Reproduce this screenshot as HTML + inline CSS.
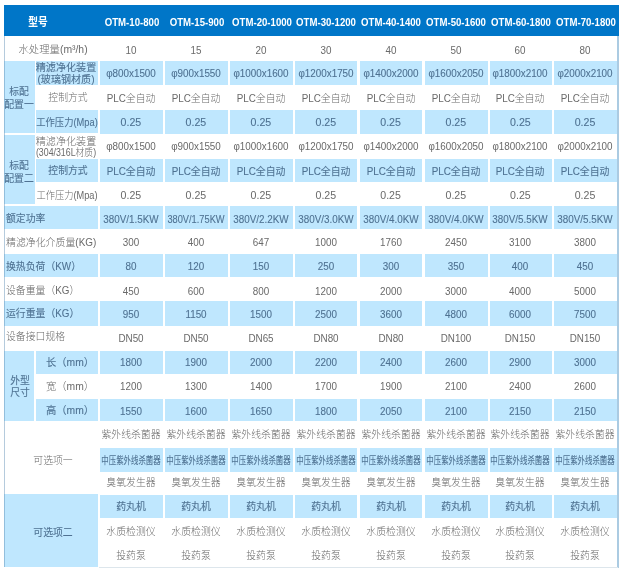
<!DOCTYPE html>
<html lang="zh-CN">
<head>
<meta charset="utf-8">
<title>OTM 规格参数表</title>
<style>
html,body{margin:0;padding:0;background:#fff;}
body{width:625px;height:572px;position:relative;overflow:hidden;
 font-family:"Liberation Sans","Noto Sans CJK SC",sans-serif;}
.b{position:absolute;}
.t{position:absolute;white-space:nowrap;font-size:10.6px;line-height:12px;text-align:center;font-weight:300;}
.t.w{color:#6a6a6a;}
.t.l{color:#4f7292;font-weight:400;-webkit-text-stroke:0.1px #4f7292;}
.t.h{color:#fff;font-weight:700;font-size:11.6px;}
</style>
</head>
<body>
<div class="b" style="left:4.0px;top:4.5px;width:615.0px;height:31.1px;background:#0076c8"></div>
<div class="b" style="left:617px;top:35.6px;width:1.9px;height:532.2px;background:#abcbe2"></div>
<div class="b" style="left:99px;top:566.6px;width:519px;height:1px;background:#dde6ec"></div>
<div class="b" style="left:4.0px;top:61.0px;width:30.8px;height:72.0px;background:#bfe7fe"></div>
<div class="b" style="left:36.0px;top:61.0px;width:61.7px;height:23.5px;background:#bfe7fe"></div>
<div class="b" style="left:36.0px;top:110.2px;width:61.7px;height:22.8px;background:#bfe7fe"></div>
<div class="b" style="left:100.2px;top:61.0px;width:62.6px;height:23.5px;background:#bfe7fe"></div>
<div class="b" style="left:165.2px;top:61.0px;width:62.6px;height:23.5px;background:#bfe7fe"></div>
<div class="b" style="left:230.2px;top:61.0px;width:62.6px;height:23.5px;background:#bfe7fe"></div>
<div class="b" style="left:295.2px;top:61.0px;width:62.2px;height:23.5px;background:#bfe7fe"></div>
<div class="b" style="left:359.9px;top:61.0px;width:62.6px;height:23.5px;background:#bfe7fe"></div>
<div class="b" style="left:424.9px;top:61.0px;width:62.9px;height:23.5px;background:#bfe7fe"></div>
<div class="b" style="left:490.2px;top:61.0px;width:61.5px;height:23.5px;background:#bfe7fe"></div>
<div class="b" style="left:554.2px;top:61.0px;width:62.8px;height:23.5px;background:#bfe7fe"></div>
<div class="b" style="left:100.2px;top:110.2px;width:62.6px;height:23.4px;background:#bfe7fe"></div>
<div class="b" style="left:165.2px;top:110.2px;width:62.6px;height:23.4px;background:#bfe7fe"></div>
<div class="b" style="left:230.2px;top:110.2px;width:62.6px;height:23.4px;background:#bfe7fe"></div>
<div class="b" style="left:295.2px;top:110.2px;width:62.2px;height:23.4px;background:#bfe7fe"></div>
<div class="b" style="left:359.9px;top:110.2px;width:62.6px;height:23.4px;background:#bfe7fe"></div>
<div class="b" style="left:424.9px;top:110.2px;width:62.9px;height:23.4px;background:#bfe7fe"></div>
<div class="b" style="left:490.2px;top:110.2px;width:61.5px;height:23.4px;background:#bfe7fe"></div>
<div class="b" style="left:554.2px;top:110.2px;width:62.8px;height:23.4px;background:#bfe7fe"></div>
<div class="b" style="left:4.0px;top:134.6px;width:30.8px;height:69.2px;background:#bfe7fe"></div>
<div class="b" style="left:36.0px;top:159.0px;width:61.7px;height:22.5px;background:#bfe7fe"></div>
<div class="b" style="left:100.2px;top:159.0px;width:62.6px;height:22.5px;background:#bfe7fe"></div>
<div class="b" style="left:165.2px;top:159.0px;width:62.6px;height:22.5px;background:#bfe7fe"></div>
<div class="b" style="left:230.2px;top:159.0px;width:62.6px;height:22.5px;background:#bfe7fe"></div>
<div class="b" style="left:295.2px;top:159.0px;width:62.2px;height:22.5px;background:#bfe7fe"></div>
<div class="b" style="left:359.9px;top:159.0px;width:62.6px;height:22.5px;background:#bfe7fe"></div>
<div class="b" style="left:424.9px;top:159.0px;width:62.9px;height:22.5px;background:#bfe7fe"></div>
<div class="b" style="left:490.2px;top:159.0px;width:61.5px;height:22.5px;background:#bfe7fe"></div>
<div class="b" style="left:554.2px;top:159.0px;width:62.8px;height:22.5px;background:#bfe7fe"></div>
<div class="b" style="left:4.0px;top:206.3px;width:93.7px;height:23.2px;background:#bfe7fe"></div>
<div class="b" style="left:100.2px;top:206.3px;width:62.6px;height:23.2px;background:#bfe7fe"></div>
<div class="b" style="left:165.2px;top:206.3px;width:62.6px;height:23.2px;background:#bfe7fe"></div>
<div class="b" style="left:230.2px;top:206.3px;width:62.6px;height:23.2px;background:#bfe7fe"></div>
<div class="b" style="left:295.2px;top:206.3px;width:62.2px;height:23.2px;background:#bfe7fe"></div>
<div class="b" style="left:359.9px;top:206.3px;width:62.6px;height:23.2px;background:#bfe7fe"></div>
<div class="b" style="left:424.9px;top:206.3px;width:62.9px;height:23.2px;background:#bfe7fe"></div>
<div class="b" style="left:490.2px;top:206.3px;width:61.5px;height:23.2px;background:#bfe7fe"></div>
<div class="b" style="left:554.2px;top:206.3px;width:62.8px;height:23.2px;background:#bfe7fe"></div>
<div class="b" style="left:4.0px;top:253.9px;width:93.7px;height:23.4px;background:#bfe7fe"></div>
<div class="b" style="left:100.2px;top:253.9px;width:62.6px;height:23.4px;background:#bfe7fe"></div>
<div class="b" style="left:165.2px;top:253.9px;width:62.6px;height:23.4px;background:#bfe7fe"></div>
<div class="b" style="left:230.2px;top:253.9px;width:62.6px;height:23.4px;background:#bfe7fe"></div>
<div class="b" style="left:295.2px;top:253.9px;width:62.2px;height:23.4px;background:#bfe7fe"></div>
<div class="b" style="left:359.9px;top:253.9px;width:62.6px;height:23.4px;background:#bfe7fe"></div>
<div class="b" style="left:424.9px;top:253.9px;width:62.9px;height:23.4px;background:#bfe7fe"></div>
<div class="b" style="left:490.2px;top:253.9px;width:61.5px;height:23.4px;background:#bfe7fe"></div>
<div class="b" style="left:554.2px;top:253.9px;width:62.8px;height:23.4px;background:#bfe7fe"></div>
<div class="b" style="left:4.0px;top:301.0px;width:93.7px;height:24.7px;background:#bfe7fe"></div>
<div class="b" style="left:100.2px;top:301.0px;width:62.6px;height:24.7px;background:#bfe7fe"></div>
<div class="b" style="left:165.2px;top:301.0px;width:62.6px;height:24.7px;background:#bfe7fe"></div>
<div class="b" style="left:230.2px;top:301.0px;width:62.6px;height:24.7px;background:#bfe7fe"></div>
<div class="b" style="left:295.2px;top:301.0px;width:62.2px;height:24.7px;background:#bfe7fe"></div>
<div class="b" style="left:359.9px;top:301.0px;width:62.6px;height:24.7px;background:#bfe7fe"></div>
<div class="b" style="left:424.9px;top:301.0px;width:62.9px;height:24.7px;background:#bfe7fe"></div>
<div class="b" style="left:490.2px;top:301.0px;width:61.5px;height:24.7px;background:#bfe7fe"></div>
<div class="b" style="left:554.2px;top:301.0px;width:62.8px;height:24.7px;background:#bfe7fe"></div>
<div class="b" style="left:4.0px;top:351.1px;width:30.2px;height:70.2px;background:#bfe7fe"></div>
<div class="b" style="left:36.0px;top:351.1px;width:61.7px;height:22.9px;background:#bfe7fe"></div>
<div class="b" style="left:36.0px;top:399.0px;width:61.7px;height:22.3px;background:#bfe7fe"></div>
<div class="b" style="left:100.2px;top:351.1px;width:62.6px;height:22.9px;background:#bfe7fe"></div>
<div class="b" style="left:165.2px;top:351.1px;width:62.6px;height:22.9px;background:#bfe7fe"></div>
<div class="b" style="left:230.2px;top:351.1px;width:62.6px;height:22.9px;background:#bfe7fe"></div>
<div class="b" style="left:295.2px;top:351.1px;width:62.2px;height:22.9px;background:#bfe7fe"></div>
<div class="b" style="left:359.9px;top:351.1px;width:62.6px;height:22.9px;background:#bfe7fe"></div>
<div class="b" style="left:424.9px;top:351.1px;width:62.9px;height:22.9px;background:#bfe7fe"></div>
<div class="b" style="left:490.2px;top:351.1px;width:61.5px;height:22.9px;background:#bfe7fe"></div>
<div class="b" style="left:554.2px;top:351.1px;width:62.8px;height:22.9px;background:#bfe7fe"></div>
<div class="b" style="left:100.2px;top:399.0px;width:62.6px;height:22.3px;background:#bfe7fe"></div>
<div class="b" style="left:165.2px;top:399.0px;width:62.6px;height:22.3px;background:#bfe7fe"></div>
<div class="b" style="left:230.2px;top:399.0px;width:62.6px;height:22.3px;background:#bfe7fe"></div>
<div class="b" style="left:295.2px;top:399.0px;width:62.2px;height:22.3px;background:#bfe7fe"></div>
<div class="b" style="left:359.9px;top:399.0px;width:62.6px;height:22.3px;background:#bfe7fe"></div>
<div class="b" style="left:424.9px;top:399.0px;width:62.9px;height:22.3px;background:#bfe7fe"></div>
<div class="b" style="left:490.2px;top:399.0px;width:61.5px;height:22.3px;background:#bfe7fe"></div>
<div class="b" style="left:554.2px;top:399.0px;width:62.8px;height:22.3px;background:#bfe7fe"></div>
<div class="b" style="left:100.2px;top:448.1px;width:62.6px;height:23.6px;background:#bfe7fe"></div>
<div class="b" style="left:165.2px;top:448.1px;width:62.6px;height:23.6px;background:#bfe7fe"></div>
<div class="b" style="left:230.2px;top:448.1px;width:62.6px;height:23.6px;background:#bfe7fe"></div>
<div class="b" style="left:295.2px;top:448.1px;width:62.2px;height:23.6px;background:#bfe7fe"></div>
<div class="b" style="left:359.9px;top:448.1px;width:62.6px;height:23.6px;background:#bfe7fe"></div>
<div class="b" style="left:424.9px;top:448.1px;width:62.9px;height:23.6px;background:#bfe7fe"></div>
<div class="b" style="left:490.2px;top:448.1px;width:61.5px;height:23.6px;background:#bfe7fe"></div>
<div class="b" style="left:554.2px;top:448.1px;width:62.8px;height:23.6px;background:#bfe7fe"></div>
<div class="b" style="left:4.0px;top:494.2px;width:93.7px;height:72.5px;background:#bfe7fe"></div>
<div class="b" style="left:100.2px;top:495.1px;width:62.6px;height:23.0px;background:#bfe7fe"></div>
<div class="b" style="left:165.2px;top:495.1px;width:62.6px;height:23.0px;background:#bfe7fe"></div>
<div class="b" style="left:230.2px;top:495.1px;width:62.6px;height:23.0px;background:#bfe7fe"></div>
<div class="b" style="left:295.2px;top:495.1px;width:62.2px;height:23.0px;background:#bfe7fe"></div>
<div class="b" style="left:359.9px;top:495.1px;width:62.6px;height:23.0px;background:#bfe7fe"></div>
<div class="b" style="left:424.9px;top:495.1px;width:62.9px;height:23.0px;background:#bfe7fe"></div>
<div class="b" style="left:490.2px;top:495.1px;width:61.5px;height:23.0px;background:#bfe7fe"></div>
<div class="b" style="left:554.2px;top:495.1px;width:62.8px;height:23.0px;background:#bfe7fe"></div>
<div class="t h" style="top:21.9px;left:38.2px;transform:translate(-50%,-50%) scaleX(0.9);font-size:10.8px;">型号</div>
<div class="t h" style="top:21.6px;left:131.5px;transform:translate(-50%,-50%) scaleX(0.83);">OTM-10-800</div>
<div class="t h" style="top:21.6px;left:196.5px;transform:translate(-50%,-50%) scaleX(0.83);">OTM-15-900</div>
<div class="t h" style="top:21.6px;left:261.5px;transform:translate(-50%,-50%) scaleX(0.83);">OTM-20-1000</div>
<div class="t h" style="top:21.6px;left:326.4px;transform:translate(-50%,-50%) scaleX(0.83);">OTM-30-1200</div>
<div class="t h" style="top:21.6px;left:391.2px;transform:translate(-50%,-50%) scaleX(0.83);">OTM-40-1400</div>
<div class="t h" style="top:21.6px;left:456.4px;transform:translate(-50%,-50%) scaleX(0.83);">OTM-50-1600</div>
<div class="t h" style="top:21.6px;left:521.0px;transform:translate(-50%,-50%) scaleX(0.83);">OTM-60-1800</div>
<div class="t h" style="top:21.6px;left:585.6px;transform:translate(-50%,-50%) scaleX(0.83);">OTM-70-1800</div>
<div class="t w" style="top:50.0px;left:130.9px;transform:translate(-50%,-50%) scaleX(0.93);">10</div>
<div class="t w" style="top:50.0px;left:195.9px;transform:translate(-50%,-50%) scaleX(0.93);">15</div>
<div class="t w" style="top:50.0px;left:260.9px;transform:translate(-50%,-50%) scaleX(0.93);">20</div>
<div class="t w" style="top:50.0px;left:325.8px;transform:translate(-50%,-50%) scaleX(0.93);">30</div>
<div class="t w" style="top:50.0px;left:390.6px;transform:translate(-50%,-50%) scaleX(0.93);">40</div>
<div class="t w" style="top:50.0px;left:455.8px;transform:translate(-50%,-50%) scaleX(0.93);">50</div>
<div class="t w" style="top:50.0px;left:520.4px;transform:translate(-50%,-50%) scaleX(0.93);">60</div>
<div class="t w" style="top:50.0px;left:585.0px;transform:translate(-50%,-50%) scaleX(0.93);">80</div>
<div class="t l" style="top:73.0px;left:130.9px;transform:translate(-50%,-50%) scaleX(0.93);">φ800x1500</div>
<div class="t l" style="top:73.0px;left:195.9px;transform:translate(-50%,-50%) scaleX(0.93);">φ900x1550</div>
<div class="t l" style="top:73.0px;left:260.9px;transform:translate(-50%,-50%) scaleX(0.93);">φ1000x1600</div>
<div class="t l" style="top:73.0px;left:325.8px;transform:translate(-50%,-50%) scaleX(0.93);">φ1200x1750</div>
<div class="t l" style="top:73.0px;left:390.6px;transform:translate(-50%,-50%) scaleX(0.93);">φ1400x2000</div>
<div class="t l" style="top:73.0px;left:455.8px;transform:translate(-50%,-50%) scaleX(0.93);">φ1600x2050</div>
<div class="t l" style="top:73.0px;left:520.4px;transform:translate(-50%,-50%) scaleX(0.93);">φ1800x2100</div>
<div class="t l" style="top:73.0px;left:585.0px;transform:translate(-50%,-50%) scaleX(0.93);">φ2000x2100</div>
<div class="t w" style="top:98.0px;left:130.9px;transform:translate(-50%,-50%) scaleX(0.93);">PLC全自动</div>
<div class="t w" style="top:98.0px;left:195.9px;transform:translate(-50%,-50%) scaleX(0.93);">PLC全自动</div>
<div class="t w" style="top:98.0px;left:260.9px;transform:translate(-50%,-50%) scaleX(0.93);">PLC全自动</div>
<div class="t w" style="top:98.0px;left:325.8px;transform:translate(-50%,-50%) scaleX(0.93);">PLC全自动</div>
<div class="t w" style="top:98.0px;left:390.6px;transform:translate(-50%,-50%) scaleX(0.93);">PLC全自动</div>
<div class="t w" style="top:98.0px;left:455.8px;transform:translate(-50%,-50%) scaleX(0.93);">PLC全自动</div>
<div class="t w" style="top:98.0px;left:520.4px;transform:translate(-50%,-50%) scaleX(0.93);">PLC全自动</div>
<div class="t w" style="top:98.0px;left:585.0px;transform:translate(-50%,-50%) scaleX(0.93);">PLC全自动</div>
<div class="t l" style="top:122.1px;left:130.9px;transform:translate(-50%,-50%) scaleX(1.0);">0.25</div>
<div class="t l" style="top:122.1px;left:195.9px;transform:translate(-50%,-50%) scaleX(1.0);">0.25</div>
<div class="t l" style="top:122.1px;left:260.9px;transform:translate(-50%,-50%) scaleX(1.0);">0.25</div>
<div class="t l" style="top:122.1px;left:325.8px;transform:translate(-50%,-50%) scaleX(1.0);">0.25</div>
<div class="t l" style="top:122.1px;left:390.6px;transform:translate(-50%,-50%) scaleX(1.0);">0.25</div>
<div class="t l" style="top:122.1px;left:455.8px;transform:translate(-50%,-50%) scaleX(1.0);">0.25</div>
<div class="t l" style="top:122.1px;left:520.4px;transform:translate(-50%,-50%) scaleX(1.0);">0.25</div>
<div class="t l" style="top:122.1px;left:585.0px;transform:translate(-50%,-50%) scaleX(1.0);">0.25</div>
<div class="t w" style="top:146.4px;left:130.9px;transform:translate(-50%,-50%) scaleX(0.93);">φ800x1500</div>
<div class="t w" style="top:146.4px;left:195.9px;transform:translate(-50%,-50%) scaleX(0.93);">φ900x1550</div>
<div class="t w" style="top:146.4px;left:260.9px;transform:translate(-50%,-50%) scaleX(0.93);">φ1000x1600</div>
<div class="t w" style="top:146.4px;left:325.8px;transform:translate(-50%,-50%) scaleX(0.93);">φ1200x1750</div>
<div class="t w" style="top:146.4px;left:390.6px;transform:translate(-50%,-50%) scaleX(0.93);">φ1400x2000</div>
<div class="t w" style="top:146.4px;left:455.8px;transform:translate(-50%,-50%) scaleX(0.93);">φ1600x2050</div>
<div class="t w" style="top:146.4px;left:520.4px;transform:translate(-50%,-50%) scaleX(0.93);">φ1800x2100</div>
<div class="t w" style="top:146.4px;left:585.0px;transform:translate(-50%,-50%) scaleX(0.93);">φ2000x2100</div>
<div class="t l" style="top:170.8px;left:130.9px;transform:translate(-50%,-50%) scaleX(0.93);">PLC全自动</div>
<div class="t l" style="top:170.8px;left:195.9px;transform:translate(-50%,-50%) scaleX(0.93);">PLC全自动</div>
<div class="t l" style="top:170.8px;left:260.9px;transform:translate(-50%,-50%) scaleX(0.93);">PLC全自动</div>
<div class="t l" style="top:170.8px;left:325.8px;transform:translate(-50%,-50%) scaleX(0.93);">PLC全自动</div>
<div class="t l" style="top:170.8px;left:390.6px;transform:translate(-50%,-50%) scaleX(0.93);">PLC全自动</div>
<div class="t l" style="top:170.8px;left:455.8px;transform:translate(-50%,-50%) scaleX(0.93);">PLC全自动</div>
<div class="t l" style="top:170.8px;left:520.4px;transform:translate(-50%,-50%) scaleX(0.93);">PLC全自动</div>
<div class="t l" style="top:170.8px;left:585.0px;transform:translate(-50%,-50%) scaleX(0.93);">PLC全自动</div>
<div class="t w" style="top:194.6px;left:130.9px;transform:translate(-50%,-50%) scaleX(1.0);">0.25</div>
<div class="t w" style="top:194.6px;left:195.9px;transform:translate(-50%,-50%) scaleX(1.0);">0.25</div>
<div class="t w" style="top:194.6px;left:260.9px;transform:translate(-50%,-50%) scaleX(1.0);">0.25</div>
<div class="t w" style="top:194.6px;left:325.8px;transform:translate(-50%,-50%) scaleX(1.0);">0.25</div>
<div class="t w" style="top:194.6px;left:390.6px;transform:translate(-50%,-50%) scaleX(1.0);">0.25</div>
<div class="t w" style="top:194.6px;left:455.8px;transform:translate(-50%,-50%) scaleX(1.0);">0.25</div>
<div class="t w" style="top:194.6px;left:520.4px;transform:translate(-50%,-50%) scaleX(1.0);">0.25</div>
<div class="t w" style="top:194.6px;left:585.0px;transform:translate(-50%,-50%) scaleX(1.0);">0.25</div>
<div class="t l" style="top:218.5px;left:130.9px;transform:translate(-50%,-50%) scaleX(0.93);">380V/1.5KW</div>
<div class="t l" style="top:218.5px;left:195.9px;transform:translate(-50%,-50%) scaleX(0.875);">380V/1.75KW</div>
<div class="t l" style="top:218.5px;left:260.9px;transform:translate(-50%,-50%) scaleX(0.93);">380V/2.2KW</div>
<div class="t l" style="top:218.5px;left:325.8px;transform:translate(-50%,-50%) scaleX(0.93);">380V/3.0KW</div>
<div class="t l" style="top:218.5px;left:390.6px;transform:translate(-50%,-50%) scaleX(0.93);">380V/4.0KW</div>
<div class="t l" style="top:218.5px;left:455.8px;transform:translate(-50%,-50%) scaleX(0.93);">380V/4.0KW</div>
<div class="t l" style="top:218.5px;left:520.4px;transform:translate(-50%,-50%) scaleX(0.93);">380V/5.5KW</div>
<div class="t l" style="top:218.5px;left:585.0px;transform:translate(-50%,-50%) scaleX(0.93);">380V/5.5KW</div>
<div class="t w" style="top:242.4px;left:130.9px;transform:translate(-50%,-50%) scaleX(0.93);">300</div>
<div class="t w" style="top:242.4px;left:195.9px;transform:translate(-50%,-50%) scaleX(0.93);">400</div>
<div class="t w" style="top:242.4px;left:260.9px;transform:translate(-50%,-50%) scaleX(0.93);">647</div>
<div class="t w" style="top:242.4px;left:325.8px;transform:translate(-50%,-50%) scaleX(0.93);">1000</div>
<div class="t w" style="top:242.4px;left:390.6px;transform:translate(-50%,-50%) scaleX(0.93);">1760</div>
<div class="t w" style="top:242.4px;left:455.8px;transform:translate(-50%,-50%) scaleX(0.93);">2450</div>
<div class="t w" style="top:242.4px;left:520.4px;transform:translate(-50%,-50%) scaleX(0.93);">3100</div>
<div class="t w" style="top:242.4px;left:585.0px;transform:translate(-50%,-50%) scaleX(0.93);">3800</div>
<div class="t l" style="top:266.4px;left:130.9px;transform:translate(-50%,-50%) scaleX(0.93);">80</div>
<div class="t l" style="top:266.4px;left:195.9px;transform:translate(-50%,-50%) scaleX(0.93);">120</div>
<div class="t l" style="top:266.4px;left:260.9px;transform:translate(-50%,-50%) scaleX(0.93);">150</div>
<div class="t l" style="top:266.4px;left:325.8px;transform:translate(-50%,-50%) scaleX(0.93);">250</div>
<div class="t l" style="top:266.4px;left:390.6px;transform:translate(-50%,-50%) scaleX(0.93);">300</div>
<div class="t l" style="top:266.4px;left:455.8px;transform:translate(-50%,-50%) scaleX(0.93);">350</div>
<div class="t l" style="top:266.4px;left:520.4px;transform:translate(-50%,-50%) scaleX(0.93);">400</div>
<div class="t l" style="top:266.4px;left:585.0px;transform:translate(-50%,-50%) scaleX(0.93);">450</div>
<div class="t w" style="top:291.3px;left:130.9px;transform:translate(-50%,-50%) scaleX(0.93);">450</div>
<div class="t w" style="top:291.3px;left:195.9px;transform:translate(-50%,-50%) scaleX(0.93);">600</div>
<div class="t w" style="top:291.3px;left:260.9px;transform:translate(-50%,-50%) scaleX(0.93);">800</div>
<div class="t w" style="top:291.3px;left:325.8px;transform:translate(-50%,-50%) scaleX(0.93);">1200</div>
<div class="t w" style="top:291.3px;left:390.6px;transform:translate(-50%,-50%) scaleX(0.93);">2000</div>
<div class="t w" style="top:291.3px;left:455.8px;transform:translate(-50%,-50%) scaleX(0.93);">3000</div>
<div class="t w" style="top:291.3px;left:520.4px;transform:translate(-50%,-50%) scaleX(0.93);">4000</div>
<div class="t w" style="top:291.3px;left:585.0px;transform:translate(-50%,-50%) scaleX(0.93);">5000</div>
<div class="t l" style="top:313.6px;left:130.9px;transform:translate(-50%,-50%) scaleX(0.93);">950</div>
<div class="t l" style="top:313.6px;left:195.9px;transform:translate(-50%,-50%) scaleX(0.93);">1150</div>
<div class="t l" style="top:313.6px;left:260.9px;transform:translate(-50%,-50%) scaleX(0.93);">1500</div>
<div class="t l" style="top:313.6px;left:325.8px;transform:translate(-50%,-50%) scaleX(0.93);">2500</div>
<div class="t l" style="top:313.6px;left:390.6px;transform:translate(-50%,-50%) scaleX(0.93);">3600</div>
<div class="t l" style="top:313.6px;left:455.8px;transform:translate(-50%,-50%) scaleX(0.93);">4800</div>
<div class="t l" style="top:313.6px;left:520.4px;transform:translate(-50%,-50%) scaleX(0.93);">6000</div>
<div class="t l" style="top:313.6px;left:585.0px;transform:translate(-50%,-50%) scaleX(0.93);">7500</div>
<div class="t w" style="top:337.8px;left:130.9px;transform:translate(-50%,-50%) scaleX(0.93);">DN50</div>
<div class="t w" style="top:337.8px;left:195.9px;transform:translate(-50%,-50%) scaleX(0.93);">DN50</div>
<div class="t w" style="top:337.8px;left:260.9px;transform:translate(-50%,-50%) scaleX(0.93);">DN65</div>
<div class="t w" style="top:337.8px;left:325.8px;transform:translate(-50%,-50%) scaleX(0.93);">DN80</div>
<div class="t w" style="top:337.8px;left:390.6px;transform:translate(-50%,-50%) scaleX(0.93);">DN80</div>
<div class="t w" style="top:337.8px;left:455.8px;transform:translate(-50%,-50%) scaleX(0.93);">DN100</div>
<div class="t w" style="top:337.8px;left:520.4px;transform:translate(-50%,-50%) scaleX(0.93);">DN150</div>
<div class="t w" style="top:337.8px;left:585.0px;transform:translate(-50%,-50%) scaleX(0.93);">DN150</div>
<div class="t l" style="top:362.4px;left:130.9px;transform:translate(-50%,-50%) scaleX(0.93);">1800</div>
<div class="t l" style="top:362.4px;left:195.9px;transform:translate(-50%,-50%) scaleX(0.93);">1900</div>
<div class="t l" style="top:362.4px;left:260.9px;transform:translate(-50%,-50%) scaleX(0.93);">2000</div>
<div class="t l" style="top:362.4px;left:325.8px;transform:translate(-50%,-50%) scaleX(0.93);">2200</div>
<div class="t l" style="top:362.4px;left:390.6px;transform:translate(-50%,-50%) scaleX(0.93);">2400</div>
<div class="t l" style="top:362.4px;left:455.8px;transform:translate(-50%,-50%) scaleX(0.93);">2600</div>
<div class="t l" style="top:362.4px;left:520.4px;transform:translate(-50%,-50%) scaleX(0.93);">2900</div>
<div class="t l" style="top:362.4px;left:585.0px;transform:translate(-50%,-50%) scaleX(0.93);">3000</div>
<div class="t w" style="top:386.0px;left:130.9px;transform:translate(-50%,-50%) scaleX(0.93);">1200</div>
<div class="t w" style="top:386.0px;left:195.9px;transform:translate(-50%,-50%) scaleX(0.93);">1300</div>
<div class="t w" style="top:386.0px;left:260.9px;transform:translate(-50%,-50%) scaleX(0.93);">1400</div>
<div class="t w" style="top:386.0px;left:325.8px;transform:translate(-50%,-50%) scaleX(0.93);">1700</div>
<div class="t w" style="top:386.0px;left:390.6px;transform:translate(-50%,-50%) scaleX(0.93);">1900</div>
<div class="t w" style="top:386.0px;left:455.8px;transform:translate(-50%,-50%) scaleX(0.93);">2100</div>
<div class="t w" style="top:386.0px;left:520.4px;transform:translate(-50%,-50%) scaleX(0.93);">2400</div>
<div class="t w" style="top:386.0px;left:585.0px;transform:translate(-50%,-50%) scaleX(0.93);">2600</div>
<div class="t l" style="top:411.3px;left:130.9px;transform:translate(-50%,-50%) scaleX(0.93);">1550</div>
<div class="t l" style="top:411.3px;left:195.9px;transform:translate(-50%,-50%) scaleX(0.93);">1600</div>
<div class="t l" style="top:411.3px;left:260.9px;transform:translate(-50%,-50%) scaleX(0.93);">1650</div>
<div class="t l" style="top:411.3px;left:325.8px;transform:translate(-50%,-50%) scaleX(0.93);">1800</div>
<div class="t l" style="top:411.3px;left:390.6px;transform:translate(-50%,-50%) scaleX(0.93);">2050</div>
<div class="t l" style="top:411.3px;left:455.8px;transform:translate(-50%,-50%) scaleX(0.93);">2100</div>
<div class="t l" style="top:411.3px;left:520.4px;transform:translate(-50%,-50%) scaleX(0.93);">2150</div>
<div class="t l" style="top:411.3px;left:585.0px;transform:translate(-50%,-50%) scaleX(0.93);">2150</div>
<div class="t w" style="top:433.8px;left:130.9px;transform:translate(-50%,-50%) scaleX(0.93);">紫外线杀菌器</div>
<div class="t w" style="top:433.8px;left:195.9px;transform:translate(-50%,-50%) scaleX(0.93);">紫外线杀菌器</div>
<div class="t w" style="top:433.8px;left:260.9px;transform:translate(-50%,-50%) scaleX(0.93);">紫外线杀菌器</div>
<div class="t w" style="top:433.8px;left:325.8px;transform:translate(-50%,-50%) scaleX(0.93);">紫外线杀菌器</div>
<div class="t w" style="top:433.8px;left:390.6px;transform:translate(-50%,-50%) scaleX(0.93);">紫外线杀菌器</div>
<div class="t w" style="top:433.8px;left:455.8px;transform:translate(-50%,-50%) scaleX(0.93);">紫外线杀菌器</div>
<div class="t w" style="top:433.8px;left:520.4px;transform:translate(-50%,-50%) scaleX(0.93);">紫外线杀菌器</div>
<div class="t w" style="top:433.8px;left:585.0px;transform:translate(-50%,-50%) scaleX(0.93);">紫外线杀菌器</div>
<div class="t l" style="top:459.6px;left:130.9px;transform:translate(-50%,-50%) scaleX(0.7);">中压紫外线杀菌器</div>
<div class="t l" style="top:459.6px;left:195.9px;transform:translate(-50%,-50%) scaleX(0.7);">中压紫外线杀菌器</div>
<div class="t l" style="top:459.6px;left:260.9px;transform:translate(-50%,-50%) scaleX(0.7);">中压紫外线杀菌器</div>
<div class="t l" style="top:459.6px;left:325.8px;transform:translate(-50%,-50%) scaleX(0.7);">中压紫外线杀菌器</div>
<div class="t l" style="top:459.6px;left:390.6px;transform:translate(-50%,-50%) scaleX(0.7);">中压紫外线杀菌器</div>
<div class="t l" style="top:459.6px;left:455.8px;transform:translate(-50%,-50%) scaleX(0.7);">中压紫外线杀菌器</div>
<div class="t l" style="top:459.6px;left:520.4px;transform:translate(-50%,-50%) scaleX(0.7);">中压紫外线杀菌器</div>
<div class="t l" style="top:459.6px;left:585.0px;transform:translate(-50%,-50%) scaleX(0.7);">中压紫外线杀菌器</div>
<div class="t w" style="top:482.1px;left:130.9px;transform:translate(-50%,-50%) scaleX(0.93);">臭氧发生器</div>
<div class="t w" style="top:482.1px;left:195.9px;transform:translate(-50%,-50%) scaleX(0.93);">臭氧发生器</div>
<div class="t w" style="top:482.1px;left:260.9px;transform:translate(-50%,-50%) scaleX(0.93);">臭氧发生器</div>
<div class="t w" style="top:482.1px;left:325.8px;transform:translate(-50%,-50%) scaleX(0.93);">臭氧发生器</div>
<div class="t w" style="top:482.1px;left:390.6px;transform:translate(-50%,-50%) scaleX(0.93);">臭氧发生器</div>
<div class="t w" style="top:482.1px;left:455.8px;transform:translate(-50%,-50%) scaleX(0.93);">臭氧发生器</div>
<div class="t w" style="top:482.1px;left:520.4px;transform:translate(-50%,-50%) scaleX(0.93);">臭氧发生器</div>
<div class="t w" style="top:482.1px;left:585.0px;transform:translate(-50%,-50%) scaleX(0.93);">臭氧发生器</div>
<div class="t l" style="top:506.3px;left:130.9px;transform:translate(-50%,-50%) scaleX(0.93);">药丸机</div>
<div class="t l" style="top:506.3px;left:195.9px;transform:translate(-50%,-50%) scaleX(0.93);">药丸机</div>
<div class="t l" style="top:506.3px;left:260.9px;transform:translate(-50%,-50%) scaleX(0.93);">药丸机</div>
<div class="t l" style="top:506.3px;left:325.8px;transform:translate(-50%,-50%) scaleX(0.93);">药丸机</div>
<div class="t l" style="top:506.3px;left:390.6px;transform:translate(-50%,-50%) scaleX(0.93);">药丸机</div>
<div class="t l" style="top:506.3px;left:455.8px;transform:translate(-50%,-50%) scaleX(0.93);">药丸机</div>
<div class="t l" style="top:506.3px;left:520.4px;transform:translate(-50%,-50%) scaleX(0.93);">药丸机</div>
<div class="t l" style="top:506.3px;left:585.0px;transform:translate(-50%,-50%) scaleX(0.93);">药丸机</div>
<div class="t w" style="top:531.0px;left:130.9px;transform:translate(-50%,-50%) scaleX(0.93);">水质检测仪</div>
<div class="t w" style="top:531.0px;left:195.9px;transform:translate(-50%,-50%) scaleX(0.93);">水质检测仪</div>
<div class="t w" style="top:531.0px;left:260.9px;transform:translate(-50%,-50%) scaleX(0.93);">水质检测仪</div>
<div class="t w" style="top:531.0px;left:325.8px;transform:translate(-50%,-50%) scaleX(0.93);">水质检测仪</div>
<div class="t w" style="top:531.0px;left:390.6px;transform:translate(-50%,-50%) scaleX(0.93);">水质检测仪</div>
<div class="t w" style="top:531.0px;left:455.8px;transform:translate(-50%,-50%) scaleX(0.93);">水质检测仪</div>
<div class="t w" style="top:531.0px;left:520.4px;transform:translate(-50%,-50%) scaleX(0.93);">水质检测仪</div>
<div class="t w" style="top:531.0px;left:585.0px;transform:translate(-50%,-50%) scaleX(0.93);">水质检测仪</div>
<div class="t w" style="top:554.6px;left:130.9px;transform:translate(-50%,-50%) scaleX(0.93);">投药泵</div>
<div class="t w" style="top:554.6px;left:195.9px;transform:translate(-50%,-50%) scaleX(0.93);">投药泵</div>
<div class="t w" style="top:554.6px;left:260.9px;transform:translate(-50%,-50%) scaleX(0.93);">投药泵</div>
<div class="t w" style="top:554.6px;left:325.8px;transform:translate(-50%,-50%) scaleX(0.93);">投药泵</div>
<div class="t w" style="top:554.6px;left:390.6px;transform:translate(-50%,-50%) scaleX(0.93);">投药泵</div>
<div class="t w" style="top:554.6px;left:455.8px;transform:translate(-50%,-50%) scaleX(0.93);">投药泵</div>
<div class="t w" style="top:554.6px;left:520.4px;transform:translate(-50%,-50%) scaleX(0.93);">投药泵</div>
<div class="t w" style="top:554.6px;left:585.0px;transform:translate(-50%,-50%) scaleX(0.93);">投药泵</div>
<div class="t w" style="top:48.8px;left:53.3px;transform:translate(-50%,-50%) scaleX(0.98);">水处理量(m³/h)</div>
<div class="t l" style="top:73.9px;left:66.4px;transform:translate(-50%,-50%) scaleX(0.95);line-height:12.6px;">精滤净化装置<br>(玻璃钢材质)</div>
<div class="t w" style="top:96.6px;left:67.5px;transform:translate(-50%,-50%) scaleX(0.93);">控制方式</div>
<div class="t l" style="top:121.7px;left:66.8px;transform:translate(-50%,-50%) scaleX(0.878);">工作压力(Mpa)</div>
<div class="t l" style="top:97.8px;left:19.3px;transform:translate(-50%,-50%) scaleX(0.93);line-height:13.4px;">标配<br>配置一</div>
<div class="t w" style="top:141.0px;left:66.2px;transform:translate(-50%,-50%) scaleX(0.95);">精滤净化装置</div>
<div class="t w" style="top:152.2px;left:66.2px;transform:translate(-50%,-50%) scaleX(0.83);">(304/316L材质)</div>
<div class="t l" style="top:170.2px;left:67.5px;transform:translate(-50%,-50%) scaleX(0.93);">控制方式</div>
<div class="t w" style="top:195.3px;left:66.7px;transform:translate(-50%,-50%) scaleX(0.87);">工作压力(Mpa)</div>
<div class="t l" style="top:164.6px;left:19.3px;transform:translate(-50%,-50%) scaleX(0.93);">标配</div>
<div class="t l" style="top:178.2px;left:19.3px;transform:translate(-50%,-50%) scaleX(0.93);">配置二</div>
<div class="t l" style="top:218.2px;left:6.3px;transform:translate(0,-50%) scaleX(0.93);transform-origin:0 50%;">额定功率</div>
<div class="t w" style="top:242.4px;left:6.3px;transform:translate(0,-50%) scaleX(0.935);transform-origin:0 50%;">精滤净化介质量(KG)</div>
<div class="t l" style="top:265.6px;left:6.3px;transform:translate(0,-50%) scaleX(0.93);transform-origin:0 50%;">换热负荷（KW）</div>
<div class="t w" style="top:289.6px;left:6.3px;transform:translate(0,-50%) scaleX(0.93);transform-origin:0 50%;">设备重量（KG）</div>
<div class="t l" style="top:312.7px;left:6.3px;transform:translate(0,-50%) scaleX(0.93);transform-origin:0 50%;">运行重量（KG）</div>
<div class="t w" style="top:335.8px;left:6.3px;transform:translate(0,-50%) scaleX(0.93);transform-origin:0 50%;">设备接口规格</div>
<div class="t l" style="top:386.0px;left:19.6px;transform:translate(-50%,-50%) scaleX(0.93);line-height:12.3px;">外型<br>尺寸</div>
<div class="t l" style="top:362.2px;left:70.0px;transform:translate(-50%,-50%) scaleX(0.975);">长（mm）</div>
<div class="t w" style="top:386.1px;left:70.0px;transform:translate(-50%,-50%) scaleX(0.975);">宽（mm）</div>
<div class="t l" style="top:409.8px;left:70.0px;transform:translate(-50%,-50%) scaleX(0.975);">高（mm）</div>
<div class="t w" style="top:459.6px;left:52.8px;transform:translate(-50%,-50%) scaleX(0.93);">可选项一</div>
<div class="t l" style="top:532.4px;left:52.8px;transform:translate(-50%,-50%) scaleX(0.93);">可选项二</div>
<div class="b" style="left:4px;top:35.6px;width:1px;height:531px;background:rgba(90,140,180,0.45)"></div>
</body>
</html>
